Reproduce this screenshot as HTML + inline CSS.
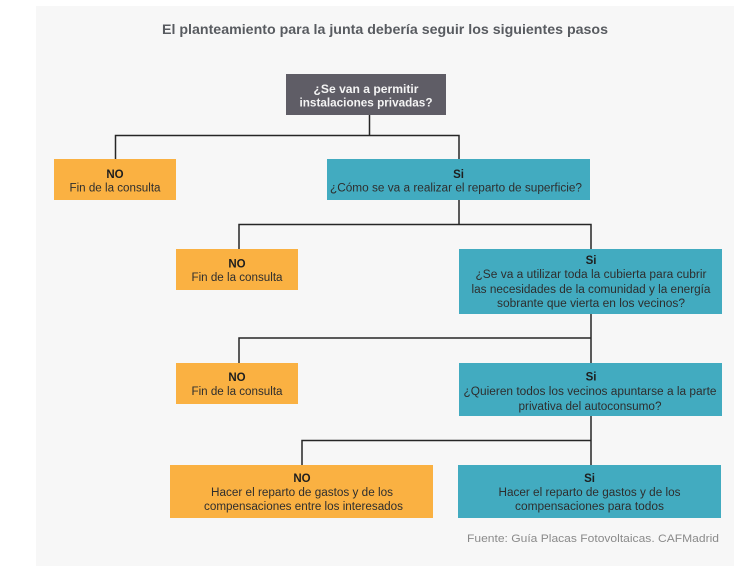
<!DOCTYPE html>
<html><head><meta charset="utf-8"><style>
html,body{margin:0;padding:0;background:#fff;}
svg{display:block;}
text{font-family:"Liberation Sans",Arial,sans-serif;}
</style></head><body>
<svg width="734" height="566" viewBox="0 0 734 566" xmlns="http://www.w3.org/2000/svg">
<rect x="36" y="6" width="698" height="560" fill="#f7f7f7"/>
<text x="385" y="34" font-size="13.5" font-weight="bold" fill="#585b60" text-anchor="middle" textLength="446" lengthAdjust="spacingAndGlyphs">El planteamiento para la junta debería seguir los siguientes pasos</text>

<g stroke="#262626" stroke-width="1.5" fill="none">
<path d="M369.5 114 V135.5 M115.5 159 V135.5 H459 V159"/>
<path d="M459 199 V224.5 M239 249 V224.5 H591 V249"/>
<path d="M591 313 V338 M239 363 V338 H591 V363"/>
<path d="M591 415 V440.5 M302 465 V440.5 H591 V465"/>
</g>

<rect x="286" y="74" width="160" height="41" fill="#5f5d66"/>
<g font-size="11.5" font-weight="bold" fill="#f4f4f4" text-anchor="middle">
<text x="366" y="93" textLength="105" lengthAdjust="spacingAndGlyphs">¿Se van a permitir</text>
<text x="366" y="106.5" textLength="133" lengthAdjust="spacingAndGlyphs">instalaciones privadas?</text>
</g>

<g fill="#fab142">
<rect x="54" y="159" width="122" height="41"/>
<rect x="176" y="249" width="122" height="41"/>
<rect x="176" y="363" width="122" height="41"/>
<rect x="170" y="465" width="263" height="53"/>
</g>
<g fill="#42abc0">
<rect x="327" y="159" width="263" height="41"/>
<rect x="459" y="249" width="263" height="65"/>
<rect x="459" y="363" width="263" height="53"/>
<rect x="458" y="465" width="263" height="53"/>
</g>

<g font-size="11.5" fill="#2e2e2e" text-anchor="middle">
<text x="115" y="178" font-weight="bold" fill="#1e1e1e">NO</text>
<text x="115" y="191.5" textLength="91" lengthAdjust="spacingAndGlyphs">Fin de la consulta</text>

<text x="458.5" y="178" font-weight="bold" fill="#1e1e1e">Si</text>
<text x="456" y="191.5" textLength="252" lengthAdjust="spacingAndGlyphs">¿Cómo se va a realizar el reparto de superficie?</text>

<text x="237" y="267.5" font-weight="bold" fill="#1e1e1e">NO</text>
<text x="237" y="281" textLength="91" lengthAdjust="spacingAndGlyphs">Fin de la consulta</text>

<text x="591" y="264" font-weight="bold" fill="#1e1e1e">Si</text>
<text x="591" y="278" textLength="231" lengthAdjust="spacingAndGlyphs">¿Se va a utilizar toda la cubierta para cubrir</text>
<text x="591" y="293" textLength="239" lengthAdjust="spacingAndGlyphs">las necesidades de la comunidad y la energía</text>
<text x="591" y="307" textLength="188" lengthAdjust="spacingAndGlyphs">sobrante que vierta en los vecinos?</text>

<text x="237" y="381" font-weight="bold" fill="#1e1e1e">NO</text>
<text x="237" y="395" textLength="91" lengthAdjust="spacingAndGlyphs">Fin de la consulta</text>

<text x="591" y="380.5" font-weight="bold" fill="#1e1e1e">Si</text>
<text x="590" y="395" textLength="253" lengthAdjust="spacingAndGlyphs">¿Quieren todos los vecinos apuntarse a la parte</text>
<text x="590" y="410" textLength="143" lengthAdjust="spacingAndGlyphs">privativa del autoconsumo?</text>

<text x="302" y="482" font-weight="bold" fill="#1e1e1e">NO</text>
<text x="302" y="496" textLength="182" lengthAdjust="spacingAndGlyphs">Hacer el reparto de gastos y de los</text>
<text x="303.5" y="510" textLength="199" lengthAdjust="spacingAndGlyphs">compensaciones entre los interesados</text>

<text x="589.5" y="482" font-weight="bold" fill="#1e1e1e">Si</text>
<text x="589.5" y="496" textLength="182" lengthAdjust="spacingAndGlyphs">Hacer el reparto de gastos y de los</text>
<text x="589.5" y="510" textLength="149" lengthAdjust="spacingAndGlyphs">compensaciones para todos</text>
</g>

<text x="719" y="542" font-size="11" fill="#8a8a8a" text-anchor="end" textLength="252" lengthAdjust="spacingAndGlyphs">Fuente: Guía Placas Fotovoltaicas. CAFMadrid</text>
</svg>
</body></html>
